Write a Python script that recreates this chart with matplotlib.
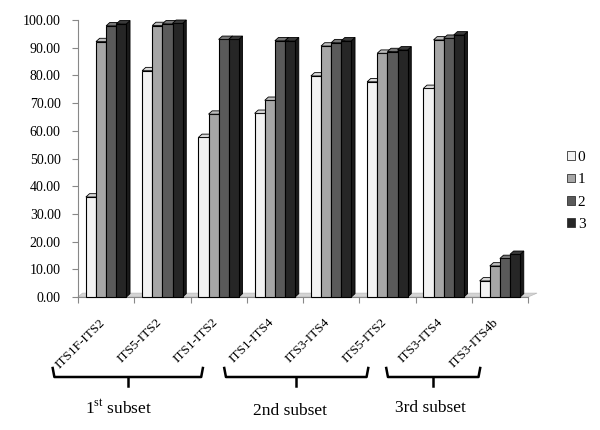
import matplotlib
matplotlib.use("Agg")
import matplotlib.pyplot as plt
import numpy as np
from matplotlib.patches import Polygon, Patch
from matplotlib.lines import Line2D
from matplotlib.transforms import ScaledTranslation, blended_transform_factory

plt.rcParams['font.family'] = ['Liberation Serif', 'DejaVu Serif']
plt.rcParams['mathtext.fontset'] = 'custom'
plt.rcParams['mathtext.rm'] = 'Liberation Serif'

primers = ["ITS1F-ITS2", "ITS5-ITS2", "ITS1-ITS2", "ITS1-ITS4",
           "ITS3-ITS4", "ITS5-ITS2", "ITS3-ITS4", "ITS3-ITS4b"]
series_names = ["0", "1", "2", "3"]
vals_0 = [36.1, 81.7, 57.6, 66.3, 79.8, 77.7, 75.3, 5.8]
vals_1 = [92.2, 98.0, 66.0, 71.0, 90.6, 88.0, 92.8, 11.2]
vals_2 = [97.9, 98.6, 93.0, 92.5, 91.8, 88.6, 93.4, 13.9]
vals_3 = [98.6, 98.8, 93.0, 92.5, 92.5, 89.2, 94.6, 15.4]
subset_names = ["1$^{\\rm st}$ subset", "2nd subset", "3rd subset"]

colors = ["#f2f2f2", "#a6a6a6", "#5a5a5a", "#262626"]
top_colors = ["#d9d9d9", "#bdbdbd", "#777777", "#3a3a3a"]
side_colors = ["#c8c8c8", "#8a8a8a", "#444444", "#1a1a1a"]

fig = plt.figure(figsize=(6, 4.3), dpi=100)
ax = fig.add_axes([78 / 600, 133 / 430, 450 / 600, 277 / 430])

x = np.arange(len(primers))
w = 0.18
dx, dy = 0.065, 1.2  # fake 3d depth for bar caps

# floor
floor = Polygon([(-0.5, 0), (7.5, 0), (7.5 + 0.16, 1.4), (-0.5 + 0.08, 1.4)],
                closed=True, facecolor="#d4d4d4", edgecolor="#bbbbbb",
                lw=0.5, zorder=1, clip_on=False)
ax.add_patch(floor)

all_vals = [vals_0, vals_1, vals_2, vals_3]
for gi in range(len(primers)):
    for si, vals in enumerate(all_vals):
        xl = x[gi] + (si - 2) * w
        h = vals[gi]
        z = 3 + gi * 10 + si
        ax.bar(xl, h, w, align="edge", color=colors[si], edgecolor="black",
               linewidth=0.8, zorder=z, clip_on=False)
        top = Polygon([(xl, h), (xl + w, h), (xl + w + dx, h + dy), (xl + dx, h + dy)],
                      closed=True, facecolor=top_colors[si], edgecolor="black",
                      lw=0.6, zorder=z, clip_on=False)
        side = Polygon([(xl + w, 0), (xl + w + dx, dy), (xl + w + dx, h + dy), (xl + w, h)],
                       closed=True, facecolor=side_colors[si], edgecolor="black",
                       lw=0.6, zorder=z - 0.5, clip_on=False)
        ax.add_patch(top)
        ax.add_patch(side)

ax.set_xlim(-0.5, 7.5)
ax.set_ylim(0, 100)
ax.set_yticks(np.arange(0, 101, 10))
ax.set_yticklabels([f"{v:.2f}" for v in np.arange(0, 101, 10)], fontsize=10)
ax.tick_params(axis="y", length=4, width=0.8, color="#888888", pad=8.5)

ax.set_xticks(x)
ax.set_xticklabels(primers, rotation=45, ha="right", va="center",
                   rotation_mode="anchor", fontsize=9.5)
ax.tick_params(axis="x", length=0, pad=17)
for lbl in ax.get_xticklabels():
    lbl.set_transform(lbl.get_transform() + ScaledTranslation(-0.03, 0, fig.dpi_scale_trans))
ax.set_xticks(np.arange(-0.5, 8, 1), minor=True)
ax.tick_params(axis="x", which="minor", length=4, width=0.8, color="#888888")

for s in ["top", "right"]:
    ax.spines[s].set_visible(False)
ax.spines["left"].set_color("#888888")
ax.spines["bottom"].set_color("#888888")

# brackets under the labels (data x, figure y)
brackets = [(-0.95, 1.72), (2.10, 4.66), (4.98, 6.65)]
label_pos = [(0.22, 408), (3.27, 411), (5.77, 408)]
bt = blended_transform_factory(ax.transData, fig.transFigure)
yb = 1 - 377 / 430
yup = 1 - 368 / 430
ydn = 1 - 386 / 430
for (a, b), (lx, ly), name in zip(brackets, label_pos, subset_names):
    m = (a + b) / 2
    fig.add_artist(Line2D([a, a + 0.03, b - 0.03, b], [yup, yb, yb, yup],
                          transform=bt, color="black", lw=1.8))
    fig.add_artist(Line2D([m, m], [yb, ydn], transform=bt, color="black", lw=1.8))
    fig.text(lx, 1 - ly / 430, name, transform=bt, ha="center", va="center",
             fontsize=12.5)

handles = [Patch(facecolor=c, edgecolor="#333333", lw=0.6) for c in colors]
fig.legend(handles, series_names, loc="center left",
           bbox_to_anchor=(567 / 600, 1 - 191 / 430), frameon=False,
           fontsize=11, handlelength=0.5, handleheight=0.5,
           handletextpad=0.2, labelspacing=0.6, borderpad=0, borderaxespad=0)

fig.savefig("out.png", dpi=100)
